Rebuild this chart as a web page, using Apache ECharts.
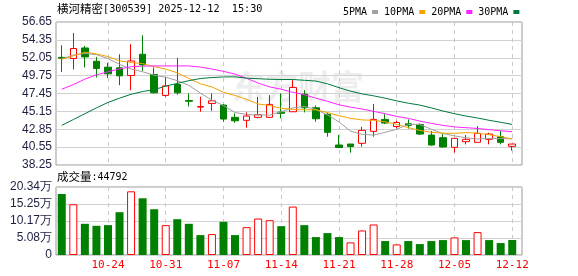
<!DOCTYPE html>
<html><head><meta charset="utf-8">
<script src="https://cdn.jsdelivr.net/npm/echarts@6/dist/echarts.min.js"></script>
<style>html,body{margin:0;padding:0;background:#fff}#c{width:578px;height:276px}</style>
</head><body><div id="c"></div>
<script>
const dates = ['10-20','10-21','10-22','10-23','10-24','10-27','10-28','10-29','10-30','10-31','11-03','11-04','11-05','11-06','11-07','11-10','11-11','11-12','11-13','11-14','11-17','11-18','11-19','11-20','11-21','11-24','11-25','11-26','11-27','11-28','12-01','12-02','12-03','12-04','12-05','12-08','12-09','12-10','12-11','12-12'];
const openP  = [52.1,51.95,53.31,51.6,50.84,50.75,49.77,52.5,49.9,47.2,48.61,46.55,45.7,46.17,45.96,44.38,44.0,44.38,44.38,45.05,45.1,47.37,45.61,44.76,40.82,40.95,41.04,42.58,44.12,43.2,43.55,43.47,42.1,41.77,40.52,41.25,41.17,41.55,41.89,40.65];
const closeP = [52.0,53.24,52.16,50.67,49.98,49.72,51.64,51.13,47.54,48.43,47.54,46.45,45.78,46.51,44.16,43.94,44.55,44.72,46.05,44.9,48.23,45.61,44.2,42.45,40.5,40.62,42.71,44.12,43.65,43.72,43.35,42.23,40.82,40.57,41.68,41.55,42.32,42.23,41.17,40.95];
const lowP   = [50.23,50.54,50.8,49.51,49.46,48.52,47.88,50.36,47.46,47.02,47.3,45.79,45.1,45.22,43.82,43.69,43.04,44.25,44.3,44.25,45.1,45.02,43.82,41.89,40.42,39.84,40.6,41.89,43.5,42.97,42.93,42.1,40.75,40.47,39.84,40.9,41.17,40.91,40.91,40.1];
const highP  = [53.66,55.24,53.57,52.16,51.39,52.5,53.79,54.94,50.8,49.59,52.03,47.46,47.02,47.46,46.1,44.89,45.02,47.02,47.24,47.46,49.17,47.88,45.9,44.97,42.1,40.95,43.17,46.1,44.78,43.94,44.12,43.6,42.62,42.23,41.7,42.1,43.26,42.4,42.62,40.95];
const ma5  = [51.9,52.4,52.6,52.45,51.95,51.2,50.6,50.25,49.8,49.55,49.1,48.5,47.5,46.6,45.9,45.0,44.75,44.68,44.67,45.1,45.6,45.78,45.4,44.7,43.8,42.6,42.2,42.1,42.45,42.85,43.47,43.47,42.85,42.3,42.0,41.75,41.6,41.65,41.65,41.62];
const ma10 = [51.85,52.3,52.75,52.55,52.2,51.65,51.45,51.3,50.9,50.6,50.1,49.4,48.7,48.3,47.6,47.2,46.7,46.1,45.9,45.55,45.4,45.35,45.35,45.0,44.6,44.25,44.05,44.0,43.8,43.5,43.05,42.7,42.45,42.35,42.32,42.42,42.35,42.15,41.9,41.6];
const ma20 = [48.0,48.6,49.3,49.85,50.25,50.6,50.9,50.97,51.0,51.0,51.0,51.0,50.85,50.6,50.3,49.95,49.4,48.8,48.3,48.0,47.6,47.3,46.85,46.45,46.0,45.7,45.45,45.15,44.85,44.5,44.25,43.9,43.6,43.35,43.15,43.05,42.95,42.8,42.65,42.53];
const ma30 = [43.35,44.1,44.85,45.6,46.3,46.85,47.35,47.7,47.95,48.4,48.75,49.1,49.38,49.5,49.58,49.6,49.42,49.35,49.28,49.25,49.25,49.15,49.05,48.7,48.2,47.75,47.4,47.15,46.85,46.5,46.2,45.96,45.6,45.2,44.85,44.55,44.3,44.0,43.75,43.47];
const volume = [18.25,15.18,9.33,8.73,8.93,12.8,19.05,16.96,13.69,8.93,10.71,9.33,5.95,6.25,9.92,5.95,8.33,10.91,10.42,8.63,14.48,8.93,5.36,6.55,5.36,3.77,7.34,9.13,4.17,3.17,4.17,3.27,4.17,4.46,5.26,4.46,6.85,4.46,3.57,4.4792];
const priceTicks = ['38.25','40.55','42.85','45.15','47.45','49.75','52.05','54.35','56.65'];
const volTicks = ['0','5.08万','10.17万','15.25万','20.34万'];
const maNames = ['5PMA','10PMA','20PMA','30PMA'];
const maColors = ['#a0a0a0','#f5a300','#ff22ff','#007a3d'];
const maData = [ma5, ma10, ma20, ma30];

const upColor = '#ff0000', downColor = '#008000';
const weekEnd = (idx) => idx % 5 === 4;
const L = 56, W = 462, FW = 466;
const labelColor = '#1e2040';

const chart = echarts.init(document.getElementById('c'));
const candles = dates.map((_, i) => [openP[i], closeP[i], lowP[i], highP[i]]);
const volData = volume.map((v, i) => {
  const up = i === 0 ? closeP[i] >= openP[i] : closeP[i] >= closeP[i - 1];
  return { value: v, itemStyle: up ? { color: '#fff', borderColor: upColor, borderWidth: 1 } : { color: downColor } };
});

const option = {
  animation: false,
  backgroundColor: '#fff',
  legend: {
    left: 338, top: 2, align: 'right', icon: 'rect', itemWidth: 6, itemHeight: 4, itemGap: 6,
    textStyle: { fontFamily: 'DejaVu Sans Mono', fontSize: 10, color: '#000' },
    data: maNames
  },
  grid: [
    { left: L, top: 22, width: W, height: 143 },
    { left: L, top: 187, width: W, height: 68 },
    { left: L, top: 22, width: FW, height: 143, show: true, borderColor: '#999', borderWidth: 1, backgroundColor: 'transparent' },
    { left: L, top: 187, width: FW, height: 68, show: true, borderColor: '#999', borderWidth: 1, backgroundColor: 'transparent' }
  ],
  xAxis: [
    { type: 'category', gridIndex: 0, data: dates, boundaryGap: true,
      axisLine: { show: false }, axisTick: { show: false }, axisLabel: { show: false },
      splitLine: { show: true, interval: weekEnd, alignWithLabel: true, lineStyle: { color: '#c8c8c8', type: [4, 4] } } },
    { type: 'category', gridIndex: 1, data: dates, boundaryGap: true,
      axisLine: { show: false }, axisTick: { show: false },
      axisLabel: { show: true, interval: weekEnd, color: '#ff0000', fontFamily: 'DejaVu Sans Mono', fontSize: 11, margin: 5 },
      splitLine: { show: true, interval: weekEnd, alignWithLabel: true, lineStyle: { color: '#c8c8c8', type: [4, 4] } } },
    { type: 'value', gridIndex: 2, show: false },
    { type: 'value', gridIndex: 3, show: false }
  ],
  yAxis: [
    { type: 'value', gridIndex: 0, min: Number(priceTicks[0]), max: Number(priceTicks[priceTicks.length - 1]), show: false },
    { type: 'value', gridIndex: 1, min: 0, max: parseFloat(volTicks[volTicks.length - 1]), show: false },
    { type: 'category', gridIndex: 2, data: priceTicks, boundaryGap: false,
      axisLine: { show: false }, axisTick: { show: false },
      axisLabel: { interval: 0, color: labelColor, fontFamily: 'Liberation Sans', fontSize: 12, margin: 4 },
      splitLine: { show: true, interval: 0, lineStyle: { color: '#d2d2d2' } } },
    { type: 'category', gridIndex: 3, data: volTicks, boundaryGap: false,
      axisLine: { show: false }, axisTick: { show: false },
      axisLabel: { interval: 0, color: labelColor, fontFamily: 'Liberation Sans', fontSize: 12, margin: 4 },
      splitLine: { show: true, interval: 0, lineStyle: { color: '#d2d2d2' } } }
  ],
  graphic: [
    { type: 'text', x: 232, y: 86, z: -5, silent: true,
      style: { text: '东方财富', font: 'bold 33px "Noto Sans CJK SC"', fill: 'rgba(0,0,0,0.07)', verticalAlign: 'middle' } },
    { type: 'text', x: 57, y: 9,
      style: { text: '{c|横河精密}{a|[300539] 2025-12-12  15:30}', verticalAlign: 'middle',
        rich: { c: { fontFamily: 'Noto Sans CJK SC', fontSize: 11.5, fill: '#000' }, a: { fontFamily: 'DejaVu Sans Mono', fontSize: 10.2, fill: '#000' } } } },
    { type: 'text', x: 57, y: 177,
      style: { text: '{c|成交量}{a|:' + Math.round(volume[volume.length - 1] * 10000) + '}', verticalAlign: 'middle',
        rich: { c: { fontFamily: 'Noto Sans CJK SC', fontSize: 11.5, fill: '#000' }, a: { fontFamily: 'DejaVu Sans Mono', fontSize: 10, fill: '#000' } } } }
  ],
  series: [
    { type: 'candlestick', xAxisIndex: 0, yAxisIndex: 0, data: candles, barWidth: 7,
      itemStyle: { color: '#fff', color0: downColor, borderColor: upColor, borderColor0: downColor, borderWidth: 1 } },
    ...maNames.map((n, k) => ({
      name: n, type: 'line', xAxisIndex: 0, yAxisIndex: 0, data: maData[k], symbol: 'none', showSymbol: false,
      z: 3, color: maColors[k], lineStyle: { width: 1, color: maColors[k] }
    })),
    { type: 'bar', xAxisIndex: 1, yAxisIndex: 1, data: volData, barWidth: 8 }
  ]
};
chart.setOption(option);
</script>
</body></html>
